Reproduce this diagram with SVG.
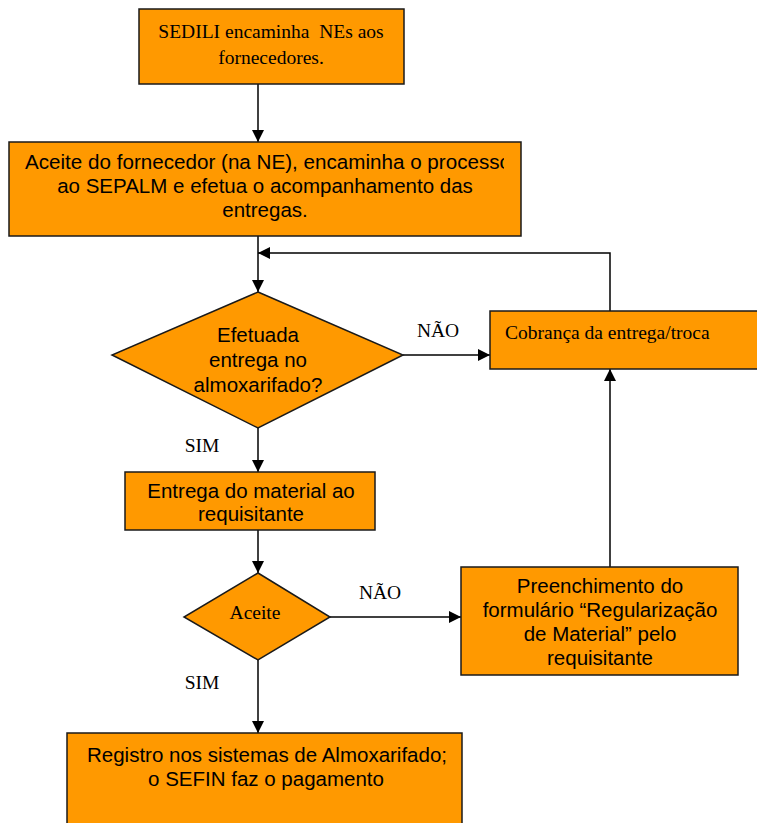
<svg xmlns="http://www.w3.org/2000/svg" width="757" height="823" viewBox="0 0 757 823">
  <defs>
    <marker id="arrow" viewBox="0 0 10 10" refX="10" refY="5" markerWidth="12" markerHeight="12" markerUnits="userSpaceOnUse" orient="auto">
      <path d="M0,0 L10,5 L0,10 z" fill="#000"/>
    </marker>
    <style>
      .box { fill: #FF9900; stroke: #1a1a1a; stroke-width: 1.5; }
      .sans { font-family: "Liberation Sans", Arial, sans-serif; font-size: 20.5px; fill: #000; }
      .serif { font-family: "Liberation Serif", "Times New Roman", serif; font-size: 19.5px; fill: #000; }
      .conn { fill: none; stroke: #000; stroke-width: 1.5; }
    </style>
  </defs>
  <rect width="757" height="823" fill="#fff"/>

  <!-- connectors -->
  <g id="connectors">
    <line class="conn" x1="258" y1="84" x2="258" y2="142" marker-end="url(#arrow)"/>
    <line class="conn" x1="258" y1="236" x2="258" y2="292" marker-end="url(#arrow)"/>
    <polyline class="conn" points="610,311 610,253 258,253" marker-end="url(#arrow)"/>
    <line class="conn" x1="403" y1="355" x2="490" y2="355" marker-end="url(#arrow)"/>
    <line class="conn" x1="258" y1="428" x2="258" y2="472" marker-end="url(#arrow)"/>
    <line class="conn" x1="258" y1="530" x2="258" y2="573" marker-end="url(#arrow)"/>
    <line class="conn" x1="330" y1="617" x2="461" y2="617" marker-end="url(#arrow)"/>
    <line class="conn" x1="610" y1="567" x2="610" y2="369" marker-end="url(#arrow)"/>
    <line class="conn" x1="258" y1="660" x2="258" y2="733" marker-end="url(#arrow)"/>
    <text class="serif" x="438" y="337" text-anchor="middle">NÃO</text>
    <text class="serif" x="202" y="452" text-anchor="middle">SIM</text>
    <text class="serif" x="380" y="599" text-anchor="middle">NÃO</text>
    <text class="serif" x="202" y="689" text-anchor="middle">SIM</text>
  </g>

  <g id="sedili">
    <rect class="box" x="139" y="9" width="265" height="75"/>
    <text class="serif" x="271" y="38" text-anchor="middle" xml:space="preserve">SEDILI encaminha  NEs aos</text>
    <text class="serif" x="271" y="64" text-anchor="middle">fornecedores.</text>
  </g>

  <g id="aceite-fornecedor">
    <rect class="box" x="9" y="142" width="512" height="94"/>
    <!-- first line overflows its text frame and is cut at the frame edge -->
    <svg x="9" y="142" width="495" height="94" overflow="hidden">
      <text class="sans" x="16" y="27" textLength="486" lengthAdjust="spacingAndGlyphs">Aceite do fornecedor (na NE), encaminha o processo</text>
    </svg>
    <text class="sans" x="265" y="193" text-anchor="middle">ao SEPALM e efetua o acompanhamento das</text>
    <text class="sans" x="265" y="217" text-anchor="middle">entregas.</text>
  </g>

  <g id="efetuada-entrega">
    <polygon class="box" points="258,292 403,355 258,428 112,355"/>
    <text class="sans" x="258" y="342" text-anchor="middle">Efetuada</text>
    <text class="sans" x="258" y="367" text-anchor="middle">entrega no</text>
    <text class="sans" x="258" y="392" text-anchor="middle">almoxarifado?</text>
  </g>

  <g id="cobranca">
    <rect class="box" x="490" y="311" width="280" height="58"/>
    <text class="serif" x="505" y="339">Cobrança da entrega/troca</text>
  </g>

  <g id="entrega-material">
    <rect class="box" x="125" y="472" width="250" height="58"/>
    <text class="sans" x="251" y="498" text-anchor="middle">Entrega do material ao</text>
    <text class="sans" x="251" y="521" text-anchor="middle">requisitante</text>
  </g>

  <g id="aceite">
    <polygon class="box" points="258,573 330,617 258,660 184,617"/>
    <text class="serif" x="255" y="619" text-anchor="middle">Aceite</text>
  </g>

  <g id="preenchimento">
    <rect class="box" x="461" y="567" width="277" height="108"/>
    <text class="sans" x="600" y="593" text-anchor="middle">Preenchimento do</text>
    <text class="sans" x="600" y="617" text-anchor="middle">formulário “Regularização</text>
    <text class="sans" x="600" y="641" text-anchor="middle">de Material” pelo</text>
    <text class="sans" x="600" y="665" text-anchor="middle">requisitante</text>
  </g>

  <g id="registro">
    <rect class="box" x="67" y="733" width="395" height="100"/>
    <text class="sans" x="267" y="762" text-anchor="middle">Registro nos sistemas de Almoxarifado;</text>
    <text class="sans" x="266" y="786" text-anchor="middle">o SEFIN faz o pagamento</text>
  </g>
</svg>
